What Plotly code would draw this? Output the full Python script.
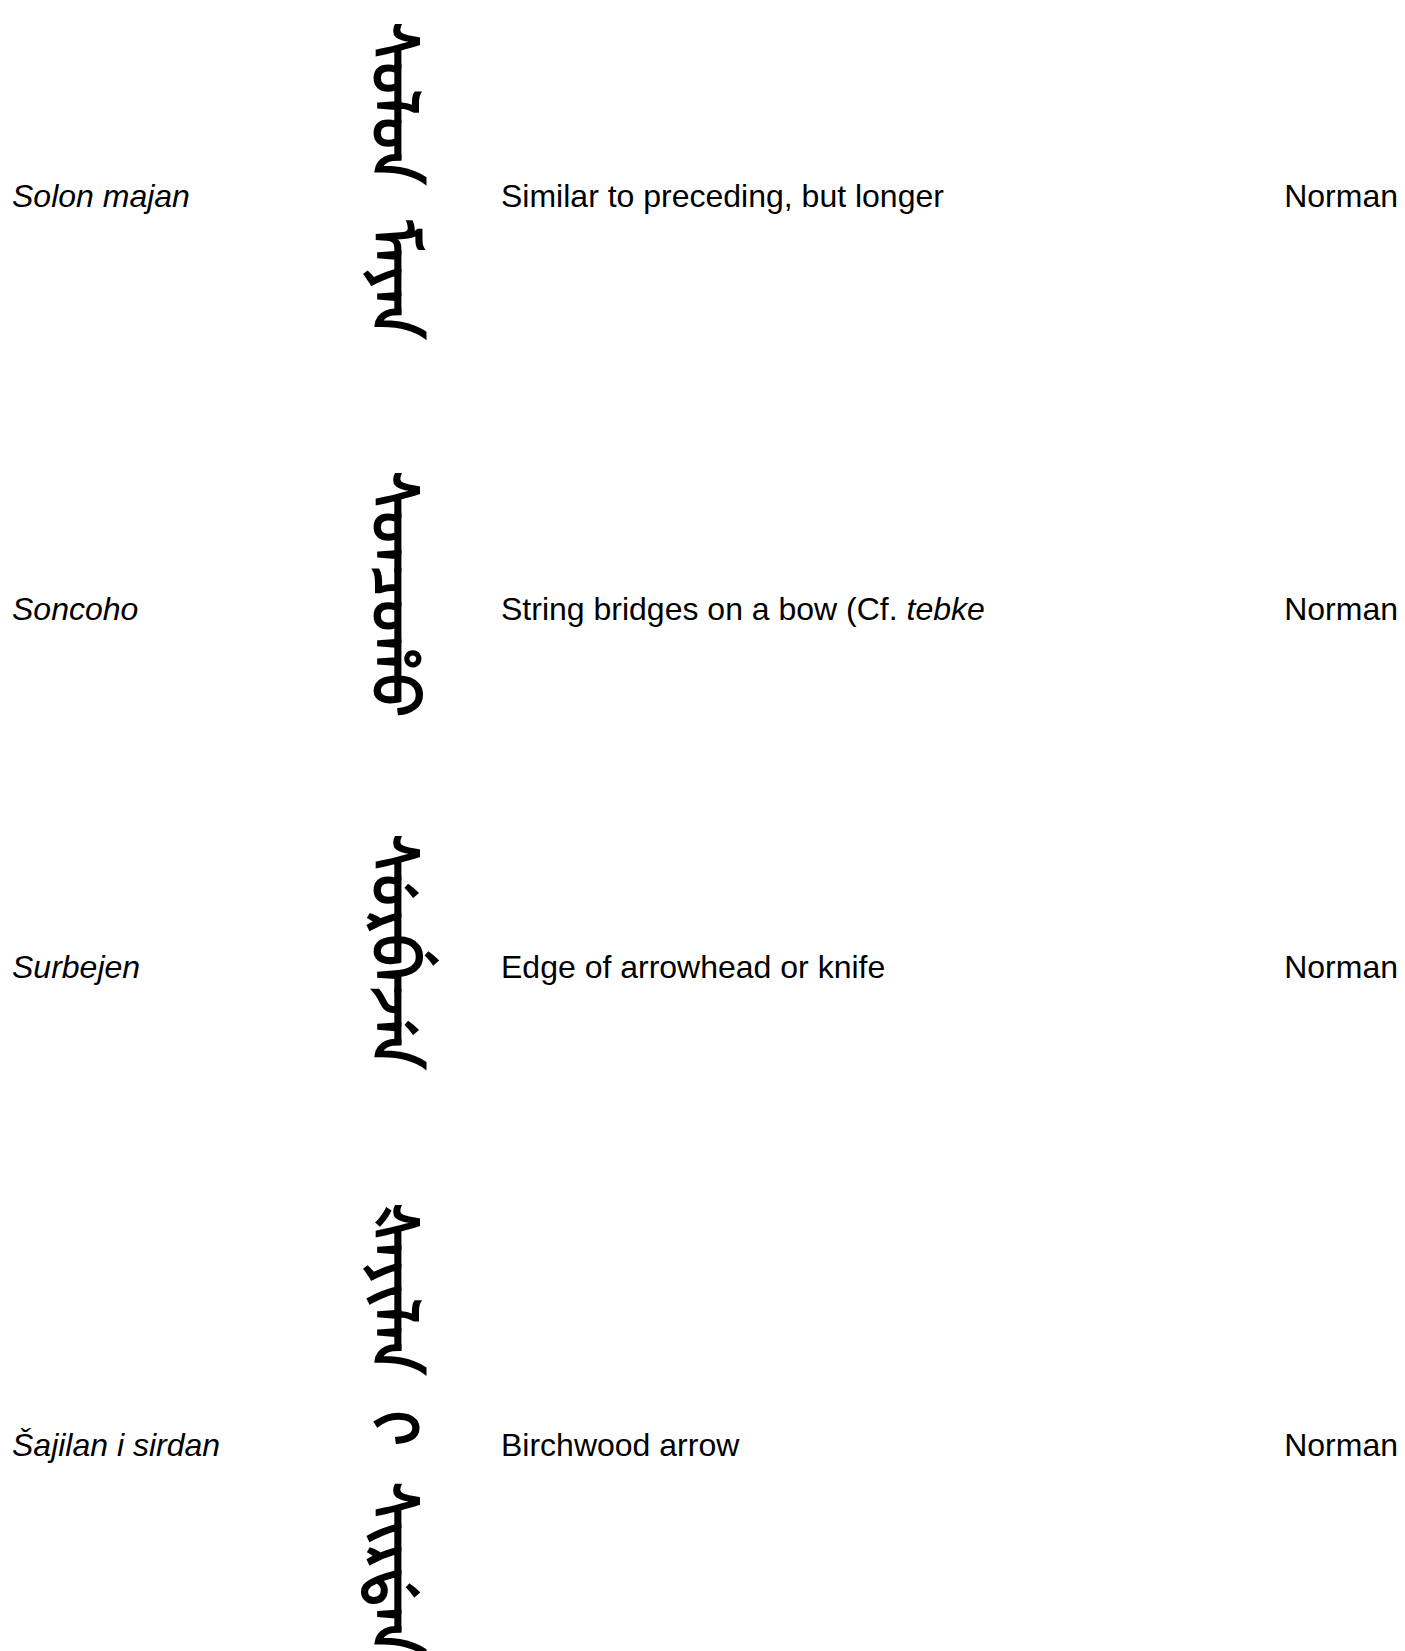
import plotly.graph_objects as go

# table contents
terms = ["Solon majan", "Soncoho", "Surbejen", "Šajilan i sirdan"]
manchu = ["ᠰᠣᠯᠣᠨ ᠮᠠᠶᠠᠨ", "ᠰᠣᠨᠴᠣᡥᠣ", "ᠰᡠᡵᠪᡝᠵᡝᠨ", "ᡧᠠᠶᡳᠯᠠᠨ ᡳ᠋ ᠰᡳᡵᡩᠠᠨ"]
glosses = ["Similar to preceding, but longer",
           "String bridges on a bow (Cf. <i>tebke</i>",
           "Edge of arrowhead or knife",
           "Birchwood arrow"]
sources = ["Norman", "Norman", "Norman", "Norman"]

# layout (pixels)
W, H = 1405, 1651
row_heights = [392, 434, 282, 674]
table_top = -5
col_term, col_manchu, col_gloss, col_src = 4, 401, 493, 1390
manchu_shift = -18  # manchu sits a bit above the text centre
word_gap = "\u2002\u200a"  # the vertical words stand further apart than a plain space

row_y = []
top = table_top
for h in row_heights:
    row_y.append(top + h / 2)
    top += h

font = dict(family="Liberation Sans, Arial, sans-serif", size=32, color="#000000")

fig = go.Figure()
fig.add_trace(go.Scatter(
    x=[col_term] * len(terms), y=row_y,
    text=["<i>%s</i>" % t for t in terms],
    mode="text", textposition="middle right", textfont=font,
    cliponaxis=False, hoverinfo="skip", showlegend=False))
fig.add_trace(go.Scatter(
    x=[col_gloss] * len(glosses), y=row_y,
    text=glosses,
    mode="text", textposition="middle right", textfont=font,
    cliponaxis=False, hoverinfo="skip", showlegend=False))
fig.add_trace(go.Scatter(
    x=[col_src] * len(sources), y=row_y,
    text=sources,
    mode="text", textposition="middle left", textfont=font,
    cliponaxis=False, hoverinfo="skip", showlegend=False))

# Manchu script runs top to bottom
for y, m in zip(row_y, manchu):
    fig.add_annotation(
        x=col_manchu, y=y + manchu_shift, xref="x", yref="y",
        text=m.replace(" ", word_gap), textangle=90, showarrow=False,
        font=dict(family="Noto Sans Mongolian, Mongolian Baiti, serif", size=64,
                  weight="bold", color="#000000"))

fig.update_xaxes(range=[0, W], visible=False)
fig.update_yaxes(range=[H, 0], visible=False)
fig.update_layout(
    width=W, height=H,
    margin=dict(l=0, r=0, t=0, b=0),
    paper_bgcolor="white", plot_bgcolor="white")

fig.write_html("out.html")
